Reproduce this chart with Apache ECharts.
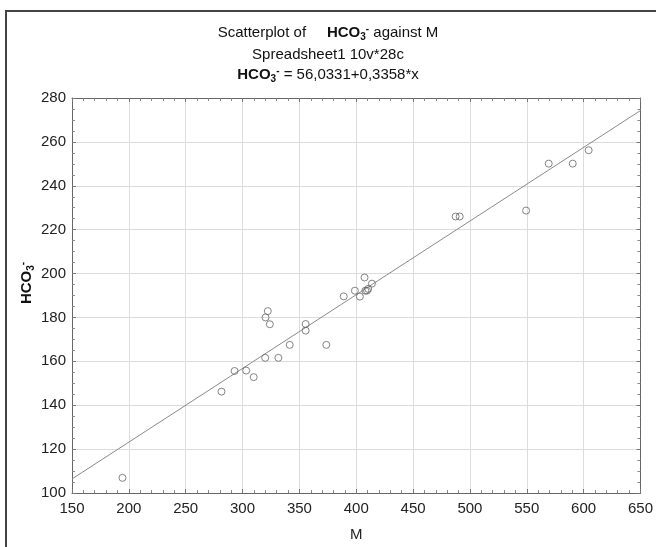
<!DOCTYPE html>
<html>
<head>
<meta charset="utf-8">
<script src="https://cdn.jsdelivr.net/npm/echarts@6/dist/echarts.min.js"></script>
<style>
html,body{margin:0;padding:0;background:#fff;}
#chart{width:656px;height:547px;}
</style>
</head>
<body>
<div id="chart"></div>
<script>
// Observed data (M vs HCO3-)
var mValues = [194.4, 281.5, 293.0, 303.2, 309.8, 319.9, 320.2, 322.2, 324.0, 331.5,
               341.5, 355.5, 355.5, 373.7, 389.0, 398.8, 403.2, 407.3, 408.0, 409.5,
               410.5, 413.8, 487.4, 491.0, 549.4, 569.3, 590.4, 604.4];
var hco3Values = [106.9, 146.2, 155.6, 155.8, 152.8, 161.6, 180.0, 182.9, 176.9, 161.6,
                  167.5, 177.0, 174.0, 167.5, 189.6, 192.2, 189.5, 198.2, 192.2, 192.2,
                  193.0, 195.4, 226.0, 226.0, 228.7, 250.1, 250.1, 256.2];
// Fitted line end points (HCO3- = 56,0331 + 0,3358*x)
var fitM = [150, 650];
var fitH = [106.4, 274.3];
var xTicks = [150, 650, 50];
var yTicks = [100, 280, 20];

var FONT = 'Liberation Sans, Arial, sans-serif';
var chart = echarts.init(document.getElementById('chart'));

var points = mValues.map(function (m, i) { return [m, hco3Values[i]]; });
var fitLine = fitM.map(function (m, i) { return [m, fitH[i]]; });

var axisCommon = {
  axisLine: { show: true, onZero: false, lineStyle: { color: '#666', width: 1 } },
  axisTick: { show: true, inside: true, length: 4, lineStyle: { color: '#777' } },
  minorTick: { show: true, length: 2, lineStyle: { color: '#999' } }
};

var option = {
  backgroundColor: '#fff',
  animation: false,
  grid: { left: 72, right: 14, top: 98, bottom: 51, containLabel: false },
  xAxis: [
    Object.assign({}, axisCommon, {
      type: 'value', min: xTicks[0], max: xTicks[1], interval: xTicks[2],
      minorTick: { show: true, splitNumber: 5, length: 3, lineStyle: { color: '#888' } },
      axisLabel: { color: '#222', fontSize: 15, fontFamily: FONT, margin: 8 },
      splitLine: { show: true, lineStyle: { color: '#dcdcdc', width: 1 } },
      name: 'M', nameLocation: 'middle', nameGap: 34,
      nameTextStyle: { color: '#222', fontSize: 15, fontFamily: FONT }
    }),
    Object.assign({}, axisCommon, {
      type: 'value', position: 'top', min: xTicks[0], max: xTicks[1], interval: xTicks[2],
      minorTick: { show: true, splitNumber: 5, length: 3, lineStyle: { color: '#888' } },
      axisLabel: { show: false }, splitLine: { show: false }
    })
  ],
  yAxis: [
    Object.assign({}, axisCommon, {
      type: 'value', min: yTicks[0], max: yTicks[1], interval: yTicks[2],
      minorTick: { show: true, splitNumber: 4, length: 3, lineStyle: { color: '#888' } },
      axisLabel: { color: '#222', fontSize: 15, fontFamily: FONT, margin: 6 },
      splitLine: { show: true, lineStyle: { color: '#dcdcdc', width: 1 } }
    }),
    Object.assign({}, axisCommon, {
      type: 'value', position: 'right', min: yTicks[0], max: yTicks[1], interval: yTicks[2],
      minorTick: { show: true, splitNumber: 4, length: 3, lineStyle: { color: '#888' } },
      axisLabel: { show: false }, splitLine: { show: false }
    })
  ],
  series: [
    {
      type: 'line', data: fitLine, xAxisIndex: 0, yAxisIndex: 0,
      showSymbol: false, symbol: 'none',
      lineStyle: { color: '#8a8a8a', width: 1 }, silent: true, z: 2
    },
    {
      type: 'scatter', data: points, xAxisIndex: 0, yAxisIndex: 0,
      symbol: 'circle', symbolSize: 7,
      itemStyle: { color: 'rgba(255,255,255,0)', borderColor: '#666', borderWidth: 1 },
      z: 3
    }
  ],
  graphic: [
    // partial outer frame (top and left edges)
    { type: 'line', shape: { x1: 5, y1: 11, x2: 656, y2: 11 }, style: { stroke: '#444', lineWidth: 2 } },
    { type: 'line', shape: { x1: 6, y1: 11, x2: 6, y2: 547 }, style: { stroke: '#444', lineWidth: 2 } },
    {
      type: 'text', left: 'center', top: 24, z: 10,
      style: {
        x: 0, y: 0,
        text: '{n|Scatterplot of     }{b|HCO}{bsub|3}{bsup|-}{n| against M}',
        rich: {
          n: { fontSize: 15, fontFamily: FONT, fill: '#111', lineHeight: 18 },
          b: { fontSize: 15, fontWeight: 'bold', fontFamily: FONT, fill: '#111', lineHeight: 18 },
          bsub: { fontSize: 10, fontWeight: 'bold', fontFamily: FONT, fill: '#111', lineHeight: 10, verticalAlign: 'bottom' },
          bsup: { fontSize: 10, fontWeight: 'bold', fontFamily: FONT, fill: '#111', lineHeight: 10, verticalAlign: 'top' }
        }
      }
    },
    {
      type: 'text', left: 'center', top: 47, z: 10,
      style: { text: 'Spreadsheet1 10v*28c', fontSize: 15, fontFamily: FONT, fill: '#111' }
    },
    {
      type: 'text', left: 'center', top: 66, z: 10,
      style: {
        text: '{b|HCO}{bsub|3}{bsup|-}{n| = 56,0331+0,3358*x}',
        rich: {
          n: { fontSize: 15, fontFamily: FONT, fill: '#111', lineHeight: 18 },
          b: { fontSize: 15, fontWeight: 'bold', fontFamily: FONT, fill: '#111', lineHeight: 18 },
          bsub: { fontSize: 10, fontWeight: 'bold', fontFamily: FONT, fill: '#111', lineHeight: 10, verticalAlign: 'bottom' },
          bsup: { fontSize: 10, fontWeight: 'bold', fontFamily: FONT, fill: '#111', lineHeight: 10, verticalAlign: 'top' }
        }
      }
    },
    {
      type: 'text', x: 27, y: 283, rotation: Math.PI / 2, z: 10,
      style: {
        text: '{b|HCO}{bsub|3}{bsup|-}',
        align: 'center', verticalAlign: 'middle',
        rich: {
          b: { fontSize: 15, fontWeight: 'bold', fontFamily: FONT, fill: '#111', lineHeight: 18 },
          bsub: { fontSize: 10, fontWeight: 'bold', fontFamily: FONT, fill: '#111', lineHeight: 10, verticalAlign: 'bottom' },
          bsup: { fontSize: 10, fontWeight: 'bold', fontFamily: FONT, fill: '#111', lineHeight: 10, verticalAlign: 'top' }
        }
      }
    }
  ]
};
chart.setOption(option);
</script>
</body>
</html>
